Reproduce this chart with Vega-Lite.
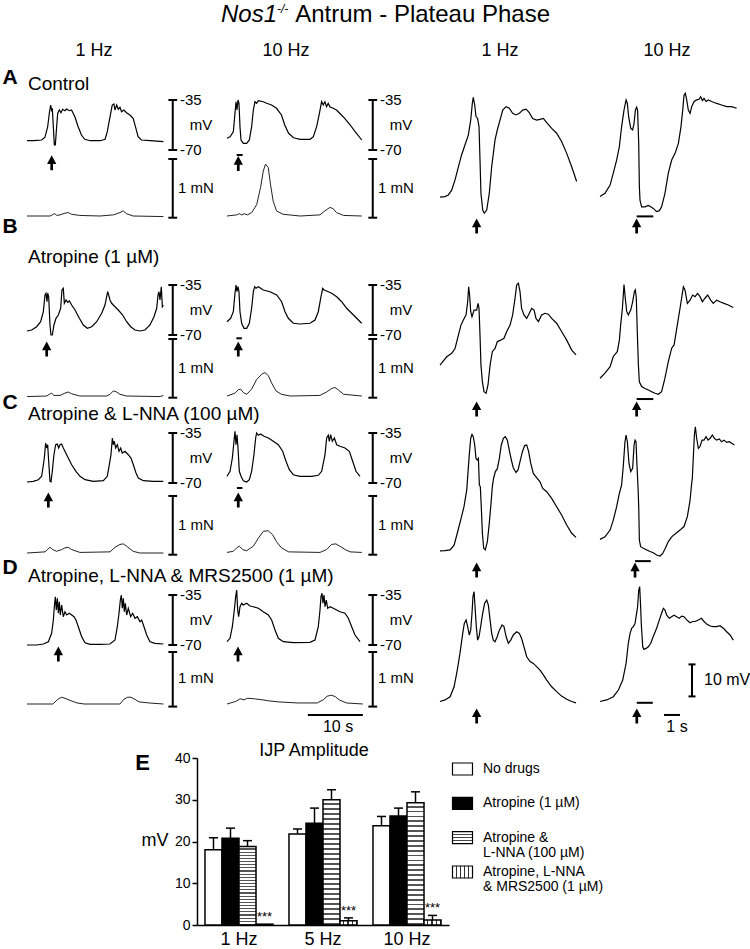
{
"$schema":"https://vega.github.io/schema/vega-lite/v6.json",
"width":750,"height":949,"padding":0,"autosize":{"type":"none"},"background":"white",
"config":{"font":"Liberation Sans","view":{"stroke":null},"text":{"font":"Liberation Sans","color":"black"}},
"resolve":{"scale":{"x":"independent","y":"independent","xOffset":"independent"}},
"datasets":{"ijp":[
{"freq":"1 Hz","group":"none","mean":18.0,"upper":20.9},
{"freq":"1 Hz","group":"atr","mean":20.8,"upper":23.2},
{"freq":"1 Hz","group":"atrl","mean":18.8,"upper":20.2},
{"freq":"1 Hz","group":"atrlm","mean":0.2,"upper":0.2},
{"freq":"5 Hz","group":"none","mean":21.8,"upper":23.0},
{"freq":"5 Hz","group":"atr","mean":24.4,"upper":28.0},
{"freq":"5 Hz","group":"atrl","mean":30.0,"upper":32.4},
{"freq":"5 Hz","group":"atrlm","mean":1.0,"upper":1.7},
{"freq":"10 Hz","group":"none","mean":23.8,"upper":26.0},
{"freq":"10 Hz","group":"atr","mean":26.1,"upper":28.0},
{"freq":"10 Hz","group":"atrl","mean":29.3,"upper":31.9},
{"freq":"10 Hz","group":"atrlm","mean":1.2,"upper":2.3}]},
"layer":[
{"encoding":{"x":{"field":"t","type":"quantitative","axis":null,"scale":{"domain":[0,25],"range":[27,164.5]}},"y":{"field":"v","type":"quantitative","axis":null,"scale":{"domain":[-70,-35],"range":[150,100]}}},
"layer":[
{"data":{"values":[{"t":0,"v":-63.5},{"t":1.15,"v":-63.5},{"t":2.67,"v":-63},{"t":3.27,"v":-61.1},{"t":3.76,"v":-53.7},{"t":4.06,"v":-44.3},{"t":4.3,"v":-38.5},{"t":4.48,"v":-42},{"t":4.6,"v":-40.8},{"t":4.79,"v":-53.7},{"t":4.97,"v":-66.5},{"t":5.15,"v":-66.5},{"t":5.39,"v":-53.7},{"t":5.58,"v":-44.3},{"t":5.88,"v":-42},{"t":6.18,"v":-43.9},{"t":6.48,"v":-41.5},{"t":6.9,"v":-42.5},{"t":7.2,"v":-41.3},{"t":7.7,"v":-42.5},{"t":8.1,"v":-42},{"t":8.7,"v":-46.7},{"t":9.3,"v":-53.7},{"t":9.9,"v":-59.5},{"t":10.5,"v":-62.5},{"t":11.5,"v":-63.5},{"t":13.3,"v":-63.5},{"t":14.2,"v":-62.5},{"t":14.6,"v":-57.2},{"t":15.1,"v":-46.7},{"t":15.5,"v":-38.5},{"t":15.8,"v":-37.8},{"t":16,"v":-42},{"t":16.3,"v":-38.5},{"t":16.6,"v":-41.5},{"t":16.9,"v":-40.1},{"t":17.2,"v":-43.2},{"t":17.6,"v":-42},{"t":18.1,"v":-43.9},{"t":18.7,"v":-45.5},{"t":19.3,"v":-47.8},{"t":19.8,"v":-54.8},{"t":20.2,"v":-60.7},{"t":20.8,"v":-63},{"t":22.4,"v":-63.5},{"t":24.8,"v":-64.2}]},"mark":{"type":"line","color":"black","strokeWidth":1.2}},
{"data":{"values":[{"t":26.5,"v":-35,"v2":-70}]},"mark":{"type":"rule","color":"black","strokeWidth":2},"encoding":{"y2":{"field":"v2"}}},
{"data":{"values":[{"t":25.7,"t2":27.3,"v":-35},{"t":25.7,"t2":27.3,"v":-70}]},"mark":{"type":"rule","color":"black","strokeWidth":2},"encoding":{"x2":{"field":"t2"}}},
{"data":{"values":[{"t":27.8,"v":-35,"label":"-35"},{"t":29.6,"v":-52.5,"label":"mV"},{"t":27.8,"v":-70,"label":"-70"}]},"mark":{"type":"text","align":"left","baseline":"middle","fontSize":15},"encoding":{"text":{"field":"label"}}},
{"data":{"values":[{"t":4.49,"v":-79}]},"mark":{"type":"point","shape":"M0,-1L0.62,0.15L0.18,0.15L0.18,1L-0.18,1L-0.18,0.15L-0.62,0.15Z","size":225,"filled":true,"color":"black","opacity":1}},
{"data":{"values":[{"t":-3.09,"v":-19.25,"label":"A"}]},"mark":{"type":"text","align":"center","baseline":"middle","fontSize":21,"fontWeight":"bold"},"encoding":{"text":{"field":"label"}}},
{"data":{"values":[{"t":0.18,"v":-23.8,"label":"Control"}]},"mark":{"type":"text","align":"left","baseline":"middle","fontSize":19},"encoding":{"text":{"field":"label"}}},
{"data":{"values":[{"t":12.18,"v":-0.7,"label":"1 Hz"}]},"mark":{"type":"text","align":"center","baseline":"middle","fontSize":18},"encoding":{"text":{"field":"label"}}}
]},
{"encoding":{"x":{"field":"t","type":"quantitative","axis":null,"scale":{"domain":[0,25],"range":[227,364.5]}},"y":{"field":"v","type":"quantitative","axis":null,"scale":{"domain":[-70,-35],"range":[150,100]}}},
"layer":[
{"data":{"values":[{"t":0,"v":-61.8},{"t":0.55,"v":-60.7},{"t":1.15,"v":-57.2},{"t":1.45,"v":-44.3},{"t":1.64,"v":-36.2},{"t":1.82,"v":-42},{"t":2,"v":-35},{"t":2.18,"v":-37.3},{"t":2.36,"v":-53.7},{"t":2.55,"v":-63},{"t":2.97,"v":-65.3},{"t":3.58,"v":-65.3},{"t":4.06,"v":-63},{"t":4.48,"v":-53.7},{"t":4.79,"v":-42},{"t":5.09,"v":-36.2},{"t":5.39,"v":-37.3},{"t":5.7,"v":-35.5},{"t":6.6,"v":-36.2},{"t":7.2,"v":-37.3},{"t":8.1,"v":-38.5},{"t":9,"v":-40.8},{"t":9.9,"v":-45.5},{"t":10.5,"v":-52.5},{"t":11.2,"v":-58.3},{"t":12.1,"v":-61.4},{"t":13.3,"v":-62.5},{"t":15.1,"v":-62.5},{"t":15.7,"v":-60.7},{"t":16.3,"v":-53.7},{"t":16.8,"v":-44.3},{"t":17.2,"v":-36.2},{"t":17.5,"v":-38.5},{"t":17.8,"v":-36.2},{"t":18.1,"v":-39.7},{"t":18.4,"v":-37.3},{"t":18.7,"v":-39.7},{"t":19.3,"v":-40.8},{"t":19.9,"v":-42},{"t":20.5,"v":-44.3},{"t":21.4,"v":-47.8},{"t":22.4,"v":-52.5},{"t":23.3,"v":-57.2},{"t":24.5,"v":-63}]},"mark":{"type":"line","color":"black","strokeWidth":1.2}},
{"data":{"values":[{"t":26.5,"v":-35,"v2":-70}]},"mark":{"type":"rule","color":"black","strokeWidth":2},"encoding":{"y2":{"field":"v2"}}},
{"data":{"values":[{"t":25.7,"t2":27.3,"v":-35},{"t":25.7,"t2":27.3,"v":-70},{"t":1.76,"t2":2.85,"v":-73.5}]},"mark":{"type":"rule","color":"black","strokeWidth":2},"encoding":{"x2":{"field":"t2"}}},
{"data":{"values":[{"t":27.8,"v":-35,"label":"-35"},{"t":29.6,"v":-52.5,"label":"mV"},{"t":27.8,"v":-70,"label":"-70"}]},"mark":{"type":"text","align":"left","baseline":"middle","fontSize":15},"encoding":{"text":{"field":"label"}}},
{"data":{"values":[{"t":2.05,"v":-79.5}]},"mark":{"type":"point","shape":"M0,-1L0.62,0.15L0.18,0.15L0.18,1L-0.18,1L-0.18,0.15L-0.62,0.15Z","size":225,"filled":true,"color":"black","opacity":1}},
{"data":{"values":[{"t":10.73,"v":-0.7,"label":"10 Hz"}]},"mark":{"type":"text","align":"center","baseline":"middle","fontSize":18},"encoding":{"text":{"field":"label"}}},
{"data":{"values":[{"t":-1.09,"v":19.6,"label":"Nos1"}]},"mark":{"type":"text","align":"left","baseline":"alphabetic","fontSize":24,"fontStyle":"italic"},"encoding":{"text":{"field":"label"}}},
{"data":{"values":[{"t":9.09,"v":26.2,"label":"-/-"}]},"mark":{"type":"text","align":"left","baseline":"alphabetic","fontSize":12,"fontStyle":"italic"},"encoding":{"text":{"field":"label"}}},
{"data":{"values":[{"t":12.4,"v":19.6,"label":"Antrum - Plateau Phase"}]},"mark":{"type":"text","align":"left","baseline":"alphabetic","fontSize":24},"encoding":{"text":{"field":"label"}}}
]},
{"encoding":{"x":{"field":"t","type":"quantitative","axis":null,"scale":{"domain":[0,25],"range":[27,164.5]}},"y":{"field":"v","type":"quantitative","axis":null,"scale":{"domain":[0,1],"range":[216,159]}}},
"layer":[
{"data":{"values":[{"t":0,"v":0},{"t":4.2,"v":0},{"t":4.8,"v":0.03},{"t":5.1,"v":0.04},{"t":5.4,"v":0.01},{"t":6,"v":0.02},{"t":6.9,"v":0.05},{"t":7.5,"v":0.06},{"t":8.1,"v":0.03},{"t":9.6,"v":0.01},{"t":13.3,"v":0},{"t":15.7,"v":0.02},{"t":16.9,"v":0.06},{"t":17.5,"v":0.09},{"t":18.1,"v":0.04},{"t":19.3,"v":0},{"t":24.8,"v":-0.01}]},"mark":{"type":"line","color":"#222","strokeWidth":1}},
{"data":{"values":[{"t":26.5,"v":-0.03,"v2":1}]},"mark":{"type":"rule","color":"black","strokeWidth":2},"encoding":{"y2":{"field":"v2"}}},
{"data":{"values":[{"t":25.7,"t2":27.3,"v":-0.03},{"t":25.7,"t2":27.3,"v":1}]},"mark":{"type":"rule","color":"black","strokeWidth":2},"encoding":{"x2":{"field":"t2"}}},
{"data":{"values":[{"t":27.45,"v":0.5,"label":"1 mN"}]},"mark":{"type":"text","align":"left","baseline":"middle","fontSize":15},"encoding":{"text":{"field":"label"}}}
]},
{"encoding":{"x":{"field":"t","type":"quantitative","axis":null,"scale":{"domain":[0,25],"range":[227,364.5]}},"y":{"field":"v","type":"quantitative","axis":null,"scale":{"domain":[0,1],"range":[216,159]}}},
"layer":[
{"data":{"values":[{"t":0,"v":0},{"t":1.76,"v":0.02},{"t":2.24,"v":0.04},{"t":2.67,"v":0.02},{"t":3.15,"v":0.04},{"t":3.7,"v":0.02},{"t":4.5,"v":0.06},{"t":5.4,"v":0.2},{"t":6.1,"v":0.5},{"t":6.6,"v":0.79},{"t":7,"v":0.91},{"t":7.5,"v":0.85},{"t":7.9,"v":0.56},{"t":8.4,"v":0.26},{"t":9,"v":0.09},{"t":10.2,"v":0.03},{"t":13.3,"v":0},{"t":16.9,"v":0.02},{"t":17.8,"v":0.09},{"t":18.7,"v":0.15},{"t":19.3,"v":0.13},{"t":19.9,"v":0.06},{"t":21.2,"v":0.01},{"t":24.5,"v":0}]},"mark":{"type":"line","color":"#222","strokeWidth":1}},
{"data":{"values":[{"t":26.5,"v":-0.03,"v2":1}]},"mark":{"type":"rule","color":"black","strokeWidth":2},"encoding":{"y2":{"field":"v2"}}},
{"data":{"values":[{"t":25.7,"t2":27.3,"v":-0.03},{"t":25.7,"t2":27.3,"v":1}]},"mark":{"type":"rule","color":"black","strokeWidth":2},"encoding":{"x2":{"field":"t2"}}},
{"data":{"values":[{"t":27.45,"v":0.5,"label":"1 mN"}]},"mark":{"type":"text","align":"left","baseline":"middle","fontSize":15},"encoding":{"text":{"field":"label"}}}
]},
{"encoding":{"x":{"field":"t","type":"quantitative","axis":null,"scale":{"domain":[0,8.5],"range":[440,576]}},"y":{"field":"v","type":"quantitative","axis":null,"scale":{"domain":[-75,-35],"range":[218,90]}}},
"layer":[
{"data":{"values":[{"t":0,"v":-68.5},{"t":0.31,"v":-68.3},{"t":0.52,"v":-67.8},{"t":0.73,"v":-66.3},{"t":0.94,"v":-63.1},{"t":1.15,"v":-59},{"t":1.35,"v":-55.3},{"t":1.56,"v":-52.2},{"t":1.77,"v":-49.1},{"t":1.92,"v":-44.4},{"t":2.02,"v":-39.2},{"t":2.08,"v":-37.3},{"t":2.17,"v":-39.7},{"t":2.25,"v":-43.3},{"t":2.35,"v":-43.9},{"t":2.44,"v":-46.5},{"t":2.5,"v":-56.9},{"t":2.56,"v":-67.3},{"t":2.67,"v":-72.5},{"t":2.77,"v":-73.5},{"t":2.92,"v":-72.5},{"t":3.08,"v":-67.3},{"t":3.23,"v":-59},{"t":3.44,"v":-50.6},{"t":3.58,"v":-47.5},{"t":3.75,"v":-44.4},{"t":3.92,"v":-41.3},{"t":4.13,"v":-40.2},{"t":4.33,"v":-40.7},{"t":4.54,"v":-42.3},{"t":4.75,"v":-42.8},{"t":4.96,"v":-42.3},{"t":5.17,"v":-41.3},{"t":5.38,"v":-41},{"t":5.58,"v":-42.1},{"t":5.79,"v":-43.9},{"t":6.04,"v":-44.4},{"t":6.25,"v":-44.2},{"t":6.46,"v":-43.9},{"t":6.67,"v":-45.2},{"t":6.98,"v":-47},{"t":7.29,"v":-48.5},{"t":7.6,"v":-51.1},{"t":7.92,"v":-54.8},{"t":8.23,"v":-59},{"t":8.54,"v":-63.6}]},"mark":{"type":"line","color":"black","strokeWidth":1.2}},
{"data":{"values":[{"t":2.29,"v":-77.5}]},"mark":{"type":"point","shape":"M0,-1L0.62,0.15L0.18,0.15L0.18,1L-0.18,1L-0.18,0.15L-0.62,0.15Z","size":225,"filled":true,"color":"black","opacity":1}},
{"data":{"values":[{"t":3.75,"v":-22.8,"label":"1 Hz"}]},"mark":{"type":"text","align":"center","baseline":"middle","fontSize":18},"encoding":{"text":{"field":"label"}}}
]},
{"encoding":{"x":{"field":"t","type":"quantitative","axis":null,"scale":{"domain":[0,8.5],"range":[600,736]}},"y":{"field":"v","type":"quantitative","axis":null,"scale":{"domain":[-75,-35],"range":[218,90]}}},
"layer":[
{"data":{"values":[{"t":0,"v":-68.3},{"t":0.31,"v":-67.3},{"t":0.63,"v":-64.7},{"t":0.83,"v":-61},{"t":1.04,"v":-56.9},{"t":1.21,"v":-52.7},{"t":1.35,"v":-46.5},{"t":1.5,"v":-41.3},{"t":1.63,"v":-38.1},{"t":1.71,"v":-39.2},{"t":1.79,"v":-43.3},{"t":1.92,"v":-47},{"t":2.04,"v":-47.5},{"t":2.13,"v":-45.4},{"t":2.21,"v":-41.3},{"t":2.29,"v":-40.4},{"t":2.35,"v":-41.3},{"t":2.42,"v":-51.7},{"t":2.46,"v":-65.2},{"t":2.5,"v":-69.4},{"t":2.6,"v":-71.5},{"t":2.81,"v":-71.5},{"t":3.02,"v":-71.1},{"t":3.17,"v":-71.5},{"t":3.33,"v":-72},{"t":3.54,"v":-73},{"t":3.71,"v":-72.7},{"t":3.85,"v":-71.5},{"t":4.06,"v":-67.3},{"t":4.27,"v":-61},{"t":4.48,"v":-56.9},{"t":4.69,"v":-54.8},{"t":4.9,"v":-51.7},{"t":5.06,"v":-46.5},{"t":5.17,"v":-41.3},{"t":5.25,"v":-36.6},{"t":5.33,"v":-36},{"t":5.42,"v":-38.1},{"t":5.52,"v":-41.3},{"t":5.63,"v":-42.3},{"t":5.73,"v":-40.2},{"t":5.88,"v":-38.6},{"t":6.04,"v":-38.1},{"t":6.19,"v":-37.9},{"t":6.29,"v":-37.1},{"t":6.4,"v":-38.3},{"t":6.5,"v":-37.6},{"t":6.63,"v":-38.6},{"t":6.77,"v":-38.1},{"t":6.98,"v":-38.6},{"t":7.29,"v":-39.2},{"t":7.6,"v":-39.7},{"t":7.92,"v":-40.2},{"t":8.23,"v":-40.2},{"t":8.54,"v":-40.7}]},"mark":{"type":"line","color":"black","strokeWidth":1.2}},
{"data":{"values":[{"t":2.29,"v":-77.5}]},"mark":{"type":"point","shape":"M0,-1L0.62,0.15L0.18,0.15L0.18,1L-0.18,1L-0.18,0.15L-0.62,0.15Z","size":225,"filled":true,"color":"black","opacity":1}},
{"data":{"values":[{"t":2.29,"t2":3.33,"v":-74.5}]},"mark":{"type":"rule","color":"black","strokeWidth":2},"encoding":{"x2":{"field":"t2"}}},
{"data":{"values":[{"t":4.19,"v":-22.8,"label":"10 Hz"}]},"mark":{"type":"text","align":"center","baseline":"middle","fontSize":18},"encoding":{"text":{"field":"label"}}}
]},
{"encoding":{"x":{"field":"t","type":"quantitative","axis":null,"scale":{"domain":[0,25],"range":[27,164.5]}},"y":{"field":"v","type":"quantitative","axis":null,"scale":{"domain":[-70,-35],"range":[335,285]}}},
"layer":[
{"data":{"values":[{"t":0,"v":-67.2},{"t":0.85,"v":-66.5},{"t":1.76,"v":-64.2},{"t":2.48,"v":-60.7},{"t":2.97,"v":-53.7},{"t":3.27,"v":-42},{"t":3.45,"v":-40.8},{"t":3.64,"v":-46.7},{"t":3.76,"v":-40.8},{"t":3.94,"v":-43.2},{"t":4.18,"v":-63},{"t":4.36,"v":-70},{"t":4.6,"v":-70},{"t":4.9,"v":-63},{"t":5.27,"v":-58.3},{"t":5.7,"v":-56},{"t":6.12,"v":-51.3},{"t":6.36,"v":-38.5},{"t":6.6,"v":-37.3},{"t":6.79,"v":-47.8},{"t":7.09,"v":-45.5},{"t":7.39,"v":-47.1},{"t":7.7,"v":-46.2},{"t":8.12,"v":-49},{"t":8.73,"v":-52.5},{"t":9.52,"v":-58.3},{"t":10.24,"v":-63},{"t":10.97,"v":-65.3},{"t":11.76,"v":-64.2},{"t":12.67,"v":-60.7},{"t":13.58,"v":-54.8},{"t":14.18,"v":-49},{"t":14.48,"v":-43.2},{"t":14.67,"v":-39.7},{"t":14.85,"v":-42},{"t":15.09,"v":-45.5},{"t":15.39,"v":-47.8},{"t":16,"v":-50.2},{"t":16.6,"v":-52.5},{"t":17.39,"v":-56},{"t":18.12,"v":-60.7},{"t":18.85,"v":-64.2},{"t":19.64,"v":-66.5},{"t":20.55,"v":-67.2},{"t":21.45,"v":-66.5},{"t":22.36,"v":-63},{"t":23.09,"v":-57.2},{"t":23.58,"v":-51.3},{"t":23.82,"v":-42},{"t":24,"v":-39.7},{"t":24.18,"v":-45.5},{"t":24.42,"v":-36.2},{"t":24.61,"v":-50.2},{"t":24.79,"v":-49}]},"mark":{"type":"line","color":"black","strokeWidth":1.2}},
{"data":{"values":[{"t":26.5,"v":-35,"v2":-70}]},"mark":{"type":"rule","color":"black","strokeWidth":2},"encoding":{"y2":{"field":"v2"}}},
{"data":{"values":[{"t":25.7,"t2":27.3,"v":-35},{"t":25.7,"t2":27.3,"v":-70}]},"mark":{"type":"rule","color":"black","strokeWidth":2},"encoding":{"x2":{"field":"t2"}}},
{"data":{"values":[{"t":27.8,"v":-35,"label":"-35"},{"t":29.6,"v":-52.5,"label":"mV"},{"t":27.8,"v":-70,"label":"-70"}]},"mark":{"type":"text","align":"left","baseline":"middle","fontSize":15},"encoding":{"text":{"field":"label"}}},
{"data":{"values":[{"t":3.58,"v":-79.8}]},"mark":{"type":"point","shape":"M0,-1L0.62,0.15L0.18,0.15L0.18,1L-0.18,1L-0.18,0.15L-0.62,0.15Z","size":225,"filled":true,"color":"black","opacity":1}},
{"data":{"values":[{"t":-3.09,"v":5.95,"label":"B"}]},"mark":{"type":"text","align":"center","baseline":"middle","fontSize":21,"fontWeight":"bold"},"encoding":{"text":{"field":"label"}}},
{"data":{"values":[{"t":0.18,"v":-15.4,"label":"Atropine (1 µM)"}]},"mark":{"type":"text","align":"left","baseline":"middle","fontSize":19},"encoding":{"text":{"field":"label"}}}
]},
{"encoding":{"x":{"field":"t","type":"quantitative","axis":null,"scale":{"domain":[0,25],"range":[227,364.5]}},"y":{"field":"v","type":"quantitative","axis":null,"scale":{"domain":[-70,-35],"range":[335,285]}}},
"layer":[
{"data":{"values":[{"t":0,"v":-60.7},{"t":0.67,"v":-58.3},{"t":1.15,"v":-53.7},{"t":1.45,"v":-40.8},{"t":1.64,"v":-35},{"t":1.82,"v":-39.7},{"t":2,"v":-36.2},{"t":2.18,"v":-39.7},{"t":2.36,"v":-53.7},{"t":2.67,"v":-61.8},{"t":3.09,"v":-65.3},{"t":3.58,"v":-65.3},{"t":4.06,"v":-61.8},{"t":4.48,"v":-51.3},{"t":4.79,"v":-39.7},{"t":5.03,"v":-36.2},{"t":5.27,"v":-37.3},{"t":5.7,"v":-36.2},{"t":6.6,"v":-38.5},{"t":7.82,"v":-39.7},{"t":9.03,"v":-42},{"t":9.94,"v":-46.7},{"t":10.55,"v":-53.7},{"t":11.15,"v":-58.3},{"t":12.06,"v":-61.8},{"t":13.27,"v":-62.3},{"t":15.09,"v":-61.8},{"t":16,"v":-59.5},{"t":16.6,"v":-53.7},{"t":17.03,"v":-44.3},{"t":17.39,"v":-37.3},{"t":17.64,"v":-38.5},{"t":18.12,"v":-39.2},{"t":19.03,"v":-40.8},{"t":19.94,"v":-43.2},{"t":20.85,"v":-46.7},{"t":21.76,"v":-51.3},{"t":22.67,"v":-54.8},{"t":23.58,"v":-58.3},{"t":24.48,"v":-61.8}]},"mark":{"type":"line","color":"black","strokeWidth":1.2}},
{"data":{"values":[{"t":26.5,"v":-35,"v2":-70}]},"mark":{"type":"rule","color":"black","strokeWidth":2},"encoding":{"y2":{"field":"v2"}}},
{"data":{"values":[{"t":25.7,"t2":27.3,"v":-35},{"t":25.7,"t2":27.3,"v":-70},{"t":1.7,"t2":2.7,"v":-72.3}]},"mark":{"type":"rule","color":"black","strokeWidth":2},"encoding":{"x2":{"field":"t2"}}},
{"data":{"values":[{"t":27.8,"v":-35,"label":"-35"},{"t":29.6,"v":-52.5,"label":"mV"},{"t":27.8,"v":-70,"label":"-70"}]},"mark":{"type":"text","align":"left","baseline":"middle","fontSize":15},"encoding":{"text":{"field":"label"}}},
{"data":{"values":[{"t":2.05,"v":-79.8}]},"mark":{"type":"point","shape":"M0,-1L0.62,0.15L0.18,0.15L0.18,1L-0.18,1L-0.18,0.15L-0.62,0.15Z","size":225,"filled":true,"color":"black","opacity":1}}
]},
{"encoding":{"x":{"field":"t","type":"quantitative","axis":null,"scale":{"domain":[0,25],"range":[27,164.5]}},"y":{"field":"v","type":"quantitative","axis":null,"scale":{"domain":[0,1],"range":[396,339]}}},
"layer":[
{"data":{"values":[{"t":0,"v":-0.01},{"t":3.58,"v":0},{"t":4.06,"v":0.03},{"t":4.48,"v":0.05},{"t":4.9,"v":0.01},{"t":6,"v":0.01},{"t":6.9,"v":0.05},{"t":7.5,"v":0.07},{"t":8.1,"v":0.04},{"t":9.6,"v":0},{"t":14.5,"v":0},{"t":15.1,"v":0.03},{"t":15.7,"v":0.09},{"t":16.3,"v":0.07},{"t":16.9,"v":0.03},{"t":18.1,"v":0},{"t":24.2,"v":-0.01},{"t":24.8,"v":0.01}]},"mark":{"type":"line","color":"#222","strokeWidth":1}},
{"data":{"values":[{"t":26.5,"v":-0.03,"v2":1}]},"mark":{"type":"rule","color":"black","strokeWidth":2},"encoding":{"y2":{"field":"v2"}}},
{"data":{"values":[{"t":25.7,"t2":27.3,"v":-0.03},{"t":25.7,"t2":27.3,"v":1}]},"mark":{"type":"rule","color":"black","strokeWidth":2},"encoding":{"x2":{"field":"t2"}}},
{"data":{"values":[{"t":27.45,"v":0.5,"label":"1 mN"}]},"mark":{"type":"text","align":"left","baseline":"middle","fontSize":15},"encoding":{"text":{"field":"label"}}}
]},
{"encoding":{"x":{"field":"t","type":"quantitative","axis":null,"scale":{"domain":[0,25],"range":[227,364.5]}},"y":{"field":"v","type":"quantitative","axis":null,"scale":{"domain":[0,1],"range":[396,339]}}},
"layer":[
{"data":{"values":[{"t":0,"v":0},{"t":1.45,"v":0.05},{"t":2.06,"v":0.11},{"t":2.48,"v":0.12},{"t":2.97,"v":0.06},{"t":3.58,"v":0.03},{"t":4.48,"v":0.12},{"t":5.39,"v":0.29},{"t":6.3,"v":0.38},{"t":6.9,"v":0.41},{"t":7.5,"v":0.36},{"t":8.1,"v":0.23},{"t":8.9,"v":0.09},{"t":9.9,"v":0.03},{"t":11.45,"v":0},{"t":16.9,"v":0.01},{"t":18.1,"v":0.07},{"t":19,"v":0.13},{"t":19.6,"v":0.15},{"t":20.2,"v":0.11},{"t":21.2,"v":0.03},{"t":24.5,"v":0}]},"mark":{"type":"line","color":"#222","strokeWidth":1}},
{"data":{"values":[{"t":26.5,"v":-0.03,"v2":1}]},"mark":{"type":"rule","color":"black","strokeWidth":2},"encoding":{"y2":{"field":"v2"}}},
{"data":{"values":[{"t":25.7,"t2":27.3,"v":-0.03},{"t":25.7,"t2":27.3,"v":1}]},"mark":{"type":"rule","color":"black","strokeWidth":2},"encoding":{"x2":{"field":"t2"}}},
{"data":{"values":[{"t":27.45,"v":0.5,"label":"1 mN"}]},"mark":{"type":"text","align":"left","baseline":"middle","fontSize":15},"encoding":{"text":{"field":"label"}}}
]},
{"encoding":{"x":{"field":"t","type":"quantitative","axis":null,"scale":{"domain":[0,8.5],"range":[440,576]}},"y":{"field":"v","type":"quantitative","axis":null,"scale":{"domain":[-75,-35],"range":[408,280]}}},
"layer":[
{"data":{"values":[{"t":0,"v":-61.6},{"t":0.1,"v":-61},{"t":0.42,"v":-59},{"t":0.73,"v":-57.9},{"t":0.94,"v":-56.4},{"t":1.15,"v":-52.2},{"t":1.31,"v":-49.1},{"t":1.46,"v":-47.5},{"t":1.63,"v":-45.9},{"t":1.73,"v":-41.8},{"t":1.79,"v":-37.1},{"t":1.85,"v":-39.7},{"t":1.92,"v":-44.9},{"t":2,"v":-46.5},{"t":2.13,"v":-44.4},{"t":2.29,"v":-44.4},{"t":2.38,"v":-42.3},{"t":2.44,"v":-43.9},{"t":2.5,"v":-52.2},{"t":2.56,"v":-61.6},{"t":2.65,"v":-66.8},{"t":2.75,"v":-69.9},{"t":2.88,"v":-70.4},{"t":3,"v":-67.8},{"t":3.13,"v":-61.6},{"t":3.27,"v":-57.4},{"t":3.44,"v":-56.4},{"t":3.58,"v":-54.3},{"t":3.79,"v":-53.8},{"t":4,"v":-53.2},{"t":4.17,"v":-51.1},{"t":4.38,"v":-49.1},{"t":4.54,"v":-45.9},{"t":4.69,"v":-40.7},{"t":4.79,"v":-36.6},{"t":4.9,"v":-36},{"t":5,"v":-38.6},{"t":5.1,"v":-43.9},{"t":5.25,"v":-45.9},{"t":5.42,"v":-47},{"t":5.58,"v":-45.4},{"t":5.73,"v":-43.9},{"t":5.88,"v":-44.4},{"t":6,"v":-47},{"t":6.15,"v":-48},{"t":6.35,"v":-45.9},{"t":6.56,"v":-45.4},{"t":6.77,"v":-45.7},{"t":6.98,"v":-47},{"t":7.29,"v":-48.5},{"t":7.6,"v":-51.1},{"t":7.92,"v":-53.8},{"t":8.23,"v":-56.9},{"t":8.5,"v":-58.4}]},"mark":{"type":"line","color":"black","strokeWidth":1.2}},
{"data":{"values":[{"t":2.29,"v":-75.3}]},"mark":{"type":"point","shape":"M0,-1L0.62,0.15L0.18,0.15L0.18,1L-0.18,1L-0.18,0.15L-0.62,0.15Z","size":225,"filled":true,"color":"black","opacity":1}}
]},
{"encoding":{"x":{"field":"t","type":"quantitative","axis":null,"scale":{"domain":[0,8.5],"range":[600,736]}},"y":{"field":"v","type":"quantitative","axis":null,"scale":{"domain":[-75,-35],"range":[408,280]}}},
"layer":[
{"data":{"values":[{"t":0,"v":-65.7},{"t":0.31,"v":-64.1},{"t":0.63,"v":-62.1},{"t":0.83,"v":-58.9},{"t":1.08,"v":-57.4},{"t":1.21,"v":-53.8},{"t":1.29,"v":-49.1},{"t":1.4,"v":-43.9},{"t":1.5,"v":-36.4},{"t":1.58,"v":-40.7},{"t":1.67,"v":-44.9},{"t":1.77,"v":-45.9},{"t":1.92,"v":-44.4},{"t":2.04,"v":-41.8},{"t":2.15,"v":-38.6},{"t":2.21,"v":-38.1},{"t":2.27,"v":-40.7},{"t":2.33,"v":-51.1},{"t":2.4,"v":-61.6},{"t":2.46,"v":-66.8},{"t":2.6,"v":-68.3},{"t":2.81,"v":-68.9},{"t":3.02,"v":-69.4},{"t":3.23,"v":-69.9},{"t":3.44,"v":-70.4},{"t":3.65,"v":-70.7},{"t":3.85,"v":-69.9},{"t":4.06,"v":-65.7},{"t":4.27,"v":-60.5},{"t":4.48,"v":-56.3},{"t":4.63,"v":-55.3},{"t":4.83,"v":-49.1},{"t":5,"v":-43.9},{"t":5.13,"v":-39.7},{"t":5.21,"v":-37.1},{"t":5.31,"v":-38.1},{"t":5.46,"v":-42.3},{"t":5.63,"v":-41.3},{"t":5.79,"v":-39.7},{"t":5.94,"v":-40.2},{"t":6.1,"v":-39.2},{"t":6.25,"v":-40.2},{"t":6.4,"v":-41.8},{"t":6.56,"v":-40.7},{"t":6.73,"v":-39.7},{"t":6.92,"v":-41.3},{"t":7.08,"v":-42.3},{"t":7.29,"v":-41.3},{"t":7.5,"v":-41.8},{"t":7.75,"v":-42.3},{"t":8.02,"v":-42.8},{"t":8.33,"v":-43.6}]},"mark":{"type":"line","color":"black","strokeWidth":1.2}},
{"data":{"values":[{"t":2.29,"v":-75.3}]},"mark":{"type":"point","shape":"M0,-1L0.62,0.15L0.18,0.15L0.18,1L-0.18,1L-0.18,0.15L-0.62,0.15Z","size":225,"filled":true,"color":"black","opacity":1}},
{"data":{"values":[{"t":2.29,"t2":3.33,"v":-72.2}]},"mark":{"type":"rule","color":"black","strokeWidth":2},"encoding":{"x2":{"field":"t2"}}}
]},
{"encoding":{"x":{"field":"t","type":"quantitative","axis":null,"scale":{"domain":[0,25],"range":[27,164.5]}},"y":{"field":"v","type":"quantitative","axis":null,"scale":{"domain":[-70,-35],"range":[483,433]}}},
"layer":[
{"data":{"values":[{"t":0,"v":-69.3},{"t":1.15,"v":-68.8},{"t":2.06,"v":-67.7},{"t":2.67,"v":-65.3},{"t":3.15,"v":-52.5},{"t":3.39,"v":-42},{"t":3.58,"v":-45.5},{"t":3.76,"v":-43.2},{"t":3.94,"v":-54.8},{"t":4.18,"v":-68.8},{"t":4.36,"v":-69.3},{"t":4.6,"v":-61.8},{"t":4.9,"v":-50.2},{"t":5.21,"v":-43.2},{"t":5.52,"v":-42.7},{"t":5.76,"v":-45.5},{"t":6,"v":-43.2},{"t":6.3,"v":-42.7},{"t":6.6,"v":-45.5},{"t":6.9,"v":-47.8},{"t":7.5,"v":-52.5},{"t":8.12,"v":-57.2},{"t":8.9,"v":-61.8},{"t":9.64,"v":-65.3},{"t":10.55,"v":-67.7},{"t":12.06,"v":-68.8},{"t":13.88,"v":-68.4},{"t":14.6,"v":-65.3},{"t":14.97,"v":-57.2},{"t":15.27,"v":-50.2},{"t":15.52,"v":-38.5},{"t":15.7,"v":-43.2},{"t":15.88,"v":-40.8},{"t":16.12,"v":-45.5},{"t":16.42,"v":-43.2},{"t":16.73,"v":-47.8},{"t":17.03,"v":-45.5},{"t":17.33,"v":-49},{"t":17.82,"v":-47.8},{"t":18.42,"v":-50.2},{"t":18.91,"v":-52.5},{"t":19.33,"v":-57.2},{"t":19.82,"v":-63},{"t":20.24,"v":-66.5},{"t":21.15,"v":-68.4},{"t":22.97,"v":-68.8},{"t":24.79,"v":-68.8}]},"mark":{"type":"line","color":"black","strokeWidth":1.2}},
{"data":{"values":[{"t":26.5,"v":-35,"v2":-70}]},"mark":{"type":"rule","color":"black","strokeWidth":2},"encoding":{"y2":{"field":"v2"}}},
{"data":{"values":[{"t":25.7,"t2":27.3,"v":-35},{"t":25.7,"t2":27.3,"v":-70}]},"mark":{"type":"rule","color":"black","strokeWidth":2},"encoding":{"x2":{"field":"t2"}}},
{"data":{"values":[{"t":27.8,"v":-35,"label":"-35"},{"t":29.6,"v":-52.5,"label":"mV"},{"t":27.8,"v":-70,"label":"-70"}]},"mark":{"type":"text","align":"left","baseline":"middle","fontSize":15},"encoding":{"text":{"field":"label"}}},
{"data":{"values":[{"t":3.88,"v":-81.9}]},"mark":{"type":"point","shape":"M0,-1L0.62,0.15L0.18,0.15L0.18,1L-0.18,1L-0.18,0.15L-0.62,0.15Z","size":225,"filled":true,"color":"black","opacity":1}},
{"data":{"values":[{"t":-3.09,"v":-13.65,"label":"C"}]},"mark":{"type":"text","align":"center","baseline":"middle","fontSize":21,"fontWeight":"bold"},"encoding":{"text":{"field":"label"}}},
{"data":{"values":[{"t":0.18,"v":-21.7,"label":"Atropine & L-NNA (100 µM)"}]},"mark":{"type":"text","align":"left","baseline":"middle","fontSize":19},"encoding":{"text":{"field":"label"}}}
]},
{"encoding":{"x":{"field":"t","type":"quantitative","axis":null,"scale":{"domain":[0,25],"range":[227,364.5]}},"y":{"field":"v","type":"quantitative","axis":null,"scale":{"domain":[-70,-35],"range":[483,433]}}},
"layer":[
{"data":{"values":[{"t":0,"v":-65.3},{"t":0.55,"v":-61.8},{"t":0.97,"v":-52.5},{"t":1.27,"v":-40.8},{"t":1.45,"v":-33.8},{"t":1.64,"v":-43.2},{"t":1.82,"v":-36.2},{"t":2,"v":-45.5},{"t":2.24,"v":-61.8},{"t":2.55,"v":-65.3},{"t":2.97,"v":-68.4},{"t":3.58,"v":-69.3},{"t":4.06,"v":-67.7},{"t":4.48,"v":-61.8},{"t":4.9,"v":-50.2},{"t":5.21,"v":-38.5},{"t":5.39,"v":-35},{"t":5.7,"v":-36.6},{"t":6.12,"v":-35.7},{"t":6.73,"v":-37.3},{"t":7.52,"v":-38.5},{"t":8.42,"v":-40.8},{"t":9.33,"v":-43.2},{"t":10.12,"v":-47.8},{"t":10.73,"v":-54.8},{"t":11.33,"v":-60.7},{"t":12.06,"v":-64.2},{"t":13.27,"v":-65.3},{"t":15.39,"v":-65.3},{"t":16.6,"v":-64.6},{"t":17.21,"v":-61.8},{"t":17.82,"v":-50.2},{"t":18.12,"v":-38.5},{"t":18.42,"v":-36.6},{"t":18.61,"v":-40.8},{"t":18.85,"v":-36.2},{"t":19.15,"v":-40.8},{"t":19.52,"v":-38.5},{"t":19.94,"v":-43.2},{"t":20.55,"v":-44.3},{"t":21.45,"v":-45.5},{"t":22.24,"v":-47.8},{"t":22.85,"v":-54.8},{"t":23.45,"v":-61.8},{"t":24.18,"v":-65.3}]},"mark":{"type":"line","color":"black","strokeWidth":1.2}},
{"data":{"values":[{"t":26.5,"v":-35,"v2":-70}]},"mark":{"type":"rule","color":"black","strokeWidth":2},"encoding":{"y2":{"field":"v2"}}},
{"data":{"values":[{"t":25.7,"t2":27.3,"v":-35},{"t":25.7,"t2":27.3,"v":-70},{"t":1.8,"t2":2.8,"v":-73.5}]},"mark":{"type":"rule","color":"black","strokeWidth":2},"encoding":{"x2":{"field":"t2"}}},
{"data":{"values":[{"t":27.8,"v":-35,"label":"-35"},{"t":29.6,"v":-52.5,"label":"mV"},{"t":27.8,"v":-70,"label":"-70"}]},"mark":{"type":"text","align":"left","baseline":"middle","fontSize":15},"encoding":{"text":{"field":"label"}}},
{"data":{"values":[{"t":2.05,"v":-81.9}]},"mark":{"type":"point","shape":"M0,-1L0.62,0.15L0.18,0.15L0.18,1L-0.18,1L-0.18,0.15L-0.62,0.15Z","size":225,"filled":true,"color":"black","opacity":1}}
]},
{"encoding":{"x":{"field":"t","type":"quantitative","axis":null,"scale":{"domain":[0,25],"range":[27,164.5]}},"y":{"field":"v","type":"quantitative","axis":null,"scale":{"domain":[0,1],"range":[553,496]}}},
"layer":[
{"data":{"values":[{"t":0,"v":0},{"t":3.27,"v":0.02},{"t":3.7,"v":0.06},{"t":4.18,"v":0.1},{"t":4.67,"v":0.06},{"t":5.39,"v":0.03},{"t":6.3,"v":0.06},{"t":6.9,"v":0.09},{"t":7.5,"v":0.1},{"t":8.12,"v":0.06},{"t":9.64,"v":0.01},{"t":15.1,"v":0.02},{"t":16,"v":0.1},{"t":16.9,"v":0.15},{"t":17.5,"v":0.16},{"t":18.1,"v":0.12},{"t":19.3,"v":0.03},{"t":20.5,"v":0},{"t":24.8,"v":0}]},"mark":{"type":"line","color":"#222","strokeWidth":1}},
{"data":{"values":[{"t":26.5,"v":-0.03,"v2":1}]},"mark":{"type":"rule","color":"black","strokeWidth":2},"encoding":{"y2":{"field":"v2"}}},
{"data":{"values":[{"t":25.7,"t2":27.3,"v":-0.03},{"t":25.7,"t2":27.3,"v":1}]},"mark":{"type":"rule","color":"black","strokeWidth":2},"encoding":{"x2":{"field":"t2"}}},
{"data":{"values":[{"t":27.45,"v":0.5,"label":"1 mN"}]},"mark":{"type":"text","align":"left","baseline":"middle","fontSize":15},"encoding":{"text":{"field":"label"}}}
]},
{"encoding":{"x":{"field":"t","type":"quantitative","axis":null,"scale":{"domain":[0,25],"range":[227,364.5]}},"y":{"field":"v","type":"quantitative","axis":null,"scale":{"domain":[0,1],"range":[553,496]}}},
"layer":[
{"data":{"values":[{"t":0,"v":0.01},{"t":1.15,"v":0.03},{"t":1.76,"v":0.09},{"t":2.24,"v":0.12},{"t":2.85,"v":0.06},{"t":3.58,"v":0.04},{"t":4.79,"v":0.12},{"t":5.7,"v":0.26},{"t":6.6,"v":0.38},{"t":7.5,"v":0.39},{"t":8.3,"v":0.32},{"t":9,"v":0.2},{"t":9.9,"v":0.09},{"t":11.2,"v":0.02},{"t":16.9,"v":0.01},{"t":18.1,"v":0.06},{"t":19,"v":0.15},{"t":19.8,"v":0.16},{"t":20.5,"v":0.12},{"t":21.5,"v":0.06},{"t":22.4,"v":0.02},{"t":24.5,"v":0.01}]},"mark":{"type":"line","color":"#222","strokeWidth":1}},
{"data":{"values":[{"t":26.5,"v":-0.03,"v2":1}]},"mark":{"type":"rule","color":"black","strokeWidth":2},"encoding":{"y2":{"field":"v2"}}},
{"data":{"values":[{"t":25.7,"t2":27.3,"v":-0.03},{"t":25.7,"t2":27.3,"v":1}]},"mark":{"type":"rule","color":"black","strokeWidth":2},"encoding":{"x2":{"field":"t2"}}},
{"data":{"values":[{"t":27.45,"v":0.5,"label":"1 mN"}]},"mark":{"type":"text","align":"left","baseline":"middle","fontSize":15},"encoding":{"text":{"field":"label"}}}
]},
{"encoding":{"x":{"field":"t","type":"quantitative","axis":null,"scale":{"domain":[0,8.5],"range":[440,576]}},"y":{"field":"v","type":"quantitative","axis":null,"scale":{"domain":[-75,-35],"range":[556,428]}}},
"layer":[
{"data":{"values":[{"t":0,"v":-73.4},{"t":0.31,"v":-73.3},{"t":0.63,"v":-73.1},{"t":0.88,"v":-71.6},{"t":1.08,"v":-67.9},{"t":1.29,"v":-63.8},{"t":1.5,"v":-59.6},{"t":1.67,"v":-54.4},{"t":1.83,"v":-43.4},{"t":1.92,"v":-38.2},{"t":2,"v":-37},{"t":2.08,"v":-37.7},{"t":2.17,"v":-40.3},{"t":2.25,"v":-44.5},{"t":2.33,"v":-45},{"t":2.4,"v":-44.5},{"t":2.46,"v":-52.8},{"t":2.52,"v":-53.3},{"t":2.58,"v":-59.6},{"t":2.65,"v":-67.9},{"t":2.73,"v":-72.6},{"t":2.83,"v":-73.1},{"t":2.96,"v":-70.5},{"t":3.08,"v":-64.8},{"t":3.19,"v":-58.5},{"t":3.27,"v":-53.3},{"t":3.35,"v":-50.7},{"t":3.46,"v":-48.6},{"t":3.58,"v":-47.8},{"t":3.71,"v":-44.5},{"t":3.83,"v":-40.3},{"t":3.96,"v":-38.2},{"t":4.08,"v":-37.7},{"t":4.21,"v":-38.8},{"t":4.33,"v":-41.9},{"t":4.46,"v":-45},{"t":4.58,"v":-47.4},{"t":4.75,"v":-48.9},{"t":4.88,"v":-48.1},{"t":5,"v":-45.5},{"t":5.15,"v":-42.4},{"t":5.29,"v":-40.5},{"t":5.42,"v":-40.3},{"t":5.54,"v":-42.4},{"t":5.67,"v":-46},{"t":5.83,"v":-49.2},{"t":6.04,"v":-50.5},{"t":6.25,"v":-51.8},{"t":6.42,"v":-53.9},{"t":6.67,"v":-54.9},{"t":6.98,"v":-57},{"t":7.29,"v":-59.6},{"t":7.6,"v":-62.2},{"t":7.92,"v":-65.3},{"t":8.23,"v":-67.9},{"t":8.5,"v":-69.2}]},"mark":{"type":"line","color":"black","strokeWidth":1.2}},
{"data":{"values":[{"t":2.29,"v":-79.4}]},"mark":{"type":"point","shape":"M0,-1L0.62,0.15L0.18,0.15L0.18,1L-0.18,1L-0.18,0.15L-0.62,0.15Z","size":225,"filled":true,"color":"black","opacity":1}}
]},
{"encoding":{"x":{"field":"t","type":"quantitative","axis":null,"scale":{"domain":[0,8.5],"range":[600,736]}},"y":{"field":"v","type":"quantitative","axis":null,"scale":{"domain":[-75,-35],"range":[556,428]}}},
"layer":[
{"data":{"values":[{"t":0,"v":-69.8},{"t":0.31,"v":-69},{"t":0.63,"v":-66.9},{"t":0.83,"v":-63.8},{"t":1.04,"v":-59.6},{"t":1.21,"v":-55.4},{"t":1.35,"v":-52.8},{"t":1.46,"v":-46.6},{"t":1.56,"v":-39.3},{"t":1.63,"v":-37.2},{"t":1.71,"v":-39.3},{"t":1.81,"v":-46},{"t":1.92,"v":-48.6},{"t":2.04,"v":-47.6},{"t":2.13,"v":-40.3},{"t":2.19,"v":-38.8},{"t":2.25,"v":-39.3},{"t":2.31,"v":-46.6},{"t":2.38,"v":-53.9},{"t":2.42,"v":-59.6},{"t":2.46,"v":-70},{"t":2.54,"v":-72.1},{"t":2.71,"v":-72.6},{"t":2.92,"v":-73.1},{"t":3.13,"v":-73.6},{"t":3.33,"v":-74},{"t":3.54,"v":-74.7},{"t":3.75,"v":-75},{"t":3.92,"v":-74.2},{"t":4.08,"v":-72.6},{"t":4.27,"v":-70.5},{"t":4.48,"v":-69},{"t":4.75,"v":-67.9},{"t":5,"v":-66.9},{"t":5.25,"v":-65.8},{"t":5.46,"v":-62.7},{"t":5.63,"v":-57.5},{"t":5.73,"v":-52.3},{"t":5.77,"v":-50.7},{"t":5.83,"v":-44.5},{"t":5.9,"v":-37.2},{"t":5.96,"v":-34.6},{"t":6.04,"v":-38.2},{"t":6.15,"v":-41.4},{"t":6.25,"v":-40.8},{"t":6.38,"v":-38.8},{"t":6.5,"v":-38.8},{"t":6.63,"v":-37.7},{"t":6.75,"v":-38.8},{"t":6.88,"v":-38.2},{"t":7.02,"v":-37.2},{"t":7.15,"v":-38.2},{"t":7.29,"v":-38.8},{"t":7.46,"v":-38.4},{"t":7.6,"v":-39.3},{"t":7.75,"v":-38.8},{"t":7.92,"v":-39.5},{"t":8.08,"v":-39.3},{"t":8.23,"v":-39.8},{"t":8.4,"v":-40.3}]},"mark":{"type":"line","color":"black","strokeWidth":1.2}},
{"data":{"values":[{"t":2.19,"v":-79.4}]},"mark":{"type":"point","shape":"M0,-1L0.62,0.15L0.18,0.15L0.18,1L-0.18,1L-0.18,0.15L-0.62,0.15Z","size":225,"filled":true,"color":"black","opacity":1}},
{"data":{"values":[{"t":2.19,"t2":3.17,"v":-76.6}]},"mark":{"type":"rule","color":"black","strokeWidth":2},"encoding":{"x2":{"field":"t2"}}}
]},
{"encoding":{"x":{"field":"t","type":"quantitative","axis":null,"scale":{"domain":[0,25],"range":[27,164.5]}},"y":{"field":"v","type":"quantitative","axis":null,"scale":{"domain":[-70,-35],"range":[645,595]}}},
"layer":[
{"data":{"values":[{"t":0,"v":-70},{"t":1.76,"v":-70},{"t":2.97,"v":-69.3},{"t":3.88,"v":-67.7},{"t":4.48,"v":-61.8},{"t":4.79,"v":-52.5},{"t":4.97,"v":-43.2},{"t":5.15,"v":-36.2},{"t":5.33,"v":-45.5},{"t":5.52,"v":-37.3},{"t":5.7,"v":-47.8},{"t":5.88,"v":-39.7},{"t":6.06,"v":-49},{"t":6.3,"v":-42},{"t":6.6,"v":-50.2},{"t":6.9,"v":-46.7},{"t":7.21,"v":-49},{"t":7.7,"v":-47.8},{"t":8.12,"v":-49},{"t":8.55,"v":-50.2},{"t":8.9,"v":-52.5},{"t":9.33,"v":-57.2},{"t":9.94,"v":-64.2},{"t":10.55,"v":-68.4},{"t":11.45,"v":-69.5},{"t":13.27,"v":-69.5},{"t":15.09,"v":-69.3},{"t":16,"v":-66.5},{"t":16.42,"v":-57.2},{"t":16.73,"v":-47.8},{"t":16.97,"v":-38.5},{"t":17.15,"v":-35},{"t":17.33,"v":-44.3},{"t":17.52,"v":-37.3},{"t":17.7,"v":-46.7},{"t":17.88,"v":-40.8},{"t":18.12,"v":-49},{"t":18.42,"v":-44.3},{"t":18.85,"v":-50.2},{"t":19.21,"v":-47.8},{"t":19.64,"v":-51.3},{"t":20.06,"v":-50.2},{"t":20.55,"v":-53.7},{"t":20.85,"v":-52.5},{"t":21.27,"v":-57.2},{"t":21.76,"v":-63},{"t":22.36,"v":-67.7},{"t":23.27,"v":-68.8},{"t":24.79,"v":-69.3}]},"mark":{"type":"line","color":"black","strokeWidth":1.2}},
{"data":{"values":[{"t":26.5,"v":-35,"v2":-70}]},"mark":{"type":"rule","color":"black","strokeWidth":2},"encoding":{"y2":{"field":"v2"}}},
{"data":{"values":[{"t":25.7,"t2":27.3,"v":-35},{"t":25.7,"t2":27.3,"v":-70}]},"mark":{"type":"rule","color":"black","strokeWidth":2},"encoding":{"x2":{"field":"t2"}}},
{"data":{"values":[{"t":27.8,"v":-35,"label":"-35"},{"t":29.6,"v":-52.5,"label":"mV"},{"t":27.8,"v":-70,"label":"-70"}]},"mark":{"type":"text","align":"left","baseline":"middle","fontSize":15},"encoding":{"text":{"field":"label"}}},
{"data":{"values":[{"t":5.7,"v":-76.3}]},"mark":{"type":"point","shape":"M0,-1L0.62,0.15L0.18,0.15L0.18,1L-0.18,1L-0.18,0.15L-0.62,0.15Z","size":225,"filled":true,"color":"black","opacity":1}},
{"data":{"values":[{"t":-3.09,"v":-15.75,"label":"D"}]},"mark":{"type":"text","align":"center","baseline":"middle","fontSize":21,"fontWeight":"bold"},"encoding":{"text":{"field":"label"}}},
{"data":{"values":[{"t":0.18,"v":-21.7,"label":"Atropine, L-NNA & MRS2500 (1 µM)"}]},"mark":{"type":"text","align":"left","baseline":"middle","fontSize":19},"encoding":{"text":{"field":"label"}}}
]},
{"encoding":{"x":{"field":"t","type":"quantitative","axis":null,"scale":{"domain":[0,25],"range":[227,364.5]}},"y":{"field":"v","type":"quantitative","axis":null,"scale":{"domain":[-70,-35],"range":[645,595]}}},
"layer":[
{"data":{"values":[{"t":0,"v":-67.7},{"t":0.55,"v":-65.3},{"t":0.97,"v":-57.2},{"t":1.33,"v":-45.5},{"t":1.58,"v":-36.2},{"t":1.76,"v":-31.5},{"t":1.94,"v":-45.5},{"t":2.12,"v":-50.2},{"t":2.36,"v":-43.2},{"t":2.67,"v":-40.8},{"t":2.97,"v":-42},{"t":3.58,"v":-40.8},{"t":4.18,"v":-42.7},{"t":4.79,"v":-43.2},{"t":5.7,"v":-44.3},{"t":6.6,"v":-46.7},{"t":7.52,"v":-49},{"t":8.12,"v":-52.5},{"t":8.73,"v":-59.5},{"t":9.33,"v":-65.3},{"t":10.24,"v":-67.7},{"t":12.06,"v":-68.4},{"t":15.09,"v":-68.1},{"t":16,"v":-66.5},{"t":16.6,"v":-57.2},{"t":16.91,"v":-45.5},{"t":17.09,"v":-36.2},{"t":17.27,"v":-33.8},{"t":17.45,"v":-40.8},{"t":17.64,"v":-35},{"t":17.82,"v":-43.2},{"t":18.06,"v":-38.5},{"t":18.3,"v":-44.3},{"t":18.73,"v":-43.2},{"t":19.33,"v":-44.3},{"t":19.94,"v":-45.5},{"t":20.55,"v":-46.7},{"t":21.45,"v":-47.8},{"t":22.06,"v":-51.3},{"t":22.67,"v":-57.2},{"t":23.27,"v":-63},{"t":24.18,"v":-67.7}]},"mark":{"type":"line","color":"black","strokeWidth":1.2}},
{"data":{"values":[{"t":26.5,"v":-35,"v2":-70}]},"mark":{"type":"rule","color":"black","strokeWidth":2},"encoding":{"y2":{"field":"v2"}}},
{"data":{"values":[{"t":25.7,"t2":27.3,"v":-35},{"t":25.7,"t2":27.3,"v":-70}]},"mark":{"type":"rule","color":"black","strokeWidth":2},"encoding":{"x2":{"field":"t2"}}},
{"data":{"values":[{"t":27.8,"v":-35,"label":"-35"},{"t":29.6,"v":-52.5,"label":"mV"},{"t":27.8,"v":-70,"label":"-70"}]},"mark":{"type":"text","align":"left","baseline":"middle","fontSize":15},"encoding":{"text":{"field":"label"}}},
{"data":{"values":[{"t":2,"v":-76.3}]},"mark":{"type":"point","shape":"M0,-1L0.62,0.15L0.18,0.15L0.18,1L-0.18,1L-0.18,0.15L-0.62,0.15Z","size":225,"filled":true,"color":"black","opacity":1}}
]},
{"encoding":{"x":{"field":"t","type":"quantitative","axis":null,"scale":{"domain":[0,25],"range":[27,164.5]}},"y":{"field":"v","type":"quantitative","axis":null,"scale":{"domain":[0,1],"range":[704,652]}}},
"layer":[
{"data":{"values":[{"t":0,"v":0},{"t":4.7,"v":0},{"t":5.6,"v":0.09},{"t":6.3,"v":0.13},{"t":6.9,"v":0.11},{"t":7.8,"v":0.07},{"t":9.1,"v":0.02},{"t":10.4,"v":0},{"t":16.9,"v":0},{"t":17.6,"v":0.09},{"t":18.3,"v":0.13},{"t":18.9,"v":0.13},{"t":19.6,"v":0.09},{"t":20.4,"v":0.04},{"t":22.2,"v":0.02},{"t":24.8,"v":0}]},"mark":{"type":"line","color":"#222","strokeWidth":1}},
{"data":{"values":[{"t":26.5,"v":-0.05,"v2":1}]},"mark":{"type":"rule","color":"black","strokeWidth":2},"encoding":{"y2":{"field":"v2"}}},
{"data":{"values":[{"t":25.7,"t2":27.3,"v":-0.05},{"t":25.7,"t2":27.3,"v":1}]},"mark":{"type":"rule","color":"black","strokeWidth":2},"encoding":{"x2":{"field":"t2"}}},
{"data":{"values":[{"t":27.45,"v":0.5,"label":"1 mN"}]},"mark":{"type":"text","align":"left","baseline":"middle","fontSize":15},"encoding":{"text":{"field":"label"}}}
]},
{"encoding":{"x":{"field":"t","type":"quantitative","axis":null,"scale":{"domain":[0,25],"range":[227,364.5]}},"y":{"field":"v","type":"quantitative","axis":null,"scale":{"domain":[0,1],"range":[704,652]}}},
"layer":[
{"data":{"values":[{"t":0,"v":0},{"t":1.6,"v":0.05},{"t":2.4,"v":0.1},{"t":3.1,"v":0.08},{"t":3.7,"v":0.11},{"t":5,"v":0.1},{"t":6.4,"v":0.08},{"t":7.6,"v":0.06},{"t":9.4,"v":0.04},{"t":12.9,"v":0.02},{"t":16.4,"v":0.02},{"t":17.5,"v":0.08},{"t":18.2,"v":0.15},{"t":19,"v":0.17},{"t":19.7,"v":0.14},{"t":20.4,"v":0.08},{"t":21.7,"v":0.02},{"t":24.7,"v":0}]},"mark":{"type":"line","color":"#222","strokeWidth":1}},
{"data":{"values":[{"t":26.5,"v":-0.05,"v2":1}]},"mark":{"type":"rule","color":"black","strokeWidth":2},"encoding":{"y2":{"field":"v2"}}},
{"data":{"values":[{"t":25.7,"t2":27.3,"v":-0.05},{"t":25.7,"t2":27.3,"v":1},{"t":14.7,"t2":24.7,"v":-0.21}]},"mark":{"type":"rule","color":"black","strokeWidth":2},"encoding":{"x2":{"field":"t2"}}},
{"data":{"values":[{"t":27.45,"v":0.5,"label":"1 mN"}]},"mark":{"type":"text","align":"left","baseline":"middle","fontSize":15},"encoding":{"text":{"field":"label"}}},
{"data":{"values":[{"t":20.2,"v":-0.44,"label":"10 s"}]},"mark":{"type":"text","align":"center","baseline":"middle","fontSize":16},"encoding":{"text":{"field":"label"}}}
]},
{"encoding":{"x":{"field":"t","type":"quantitative","axis":null,"scale":{"domain":[0,8.5],"range":[440,576]}},"y":{"field":"v","type":"quantitative","axis":null,"scale":{"domain":[-75,-35],"range":[714,586]}}},
"layer":[
{"data":{"values":[{"t":0,"v":-71.1},{"t":0.31,"v":-70.6},{"t":0.63,"v":-69.6},{"t":0.88,"v":-66.5},{"t":1.08,"v":-61.3},{"t":1.25,"v":-56},{"t":1.42,"v":-49.8},{"t":1.52,"v":-46.7},{"t":1.63,"v":-45.6},{"t":1.73,"v":-47.7},{"t":1.83,"v":-50.3},{"t":1.92,"v":-48.8},{"t":2,"v":-43.5},{"t":2.06,"v":-38.3},{"t":2.13,"v":-36.8},{"t":2.19,"v":-41.5},{"t":2.27,"v":-47.7},{"t":2.35,"v":-51.9},{"t":2.44,"v":-50.8},{"t":2.54,"v":-47.7},{"t":2.67,"v":-43.5},{"t":2.79,"v":-40.4},{"t":2.92,"v":-39.4},{"t":3.02,"v":-40.9},{"t":3.13,"v":-45.6},{"t":3.23,"v":-49.8},{"t":3.33,"v":-51.9},{"t":3.44,"v":-52.4},{"t":3.58,"v":-50.8},{"t":3.71,"v":-48.8},{"t":3.88,"v":-47.2},{"t":4,"v":-47.7},{"t":4.13,"v":-50.8},{"t":4.27,"v":-52.9},{"t":4.42,"v":-51.9},{"t":4.58,"v":-50.3},{"t":4.79,"v":-49.3},{"t":4.96,"v":-49.8},{"t":5.1,"v":-51.4},{"t":5.25,"v":-54},{"t":5.42,"v":-57.1},{"t":5.63,"v":-58.6},{"t":5.83,"v":-59.2},{"t":6.04,"v":-60.2},{"t":6.25,"v":-61.3},{"t":6.46,"v":-62.8},{"t":6.67,"v":-64.4},{"t":6.98,"v":-66.5},{"t":7.29,"v":-68},{"t":7.6,"v":-69.4},{"t":7.92,"v":-70.4},{"t":8.23,"v":-71.1},{"t":8.5,"v":-71.5}]},"mark":{"type":"line","color":"black","strokeWidth":1.2}},
{"data":{"values":[{"t":2.29,"v":-75.6}]},"mark":{"type":"point","shape":"M0,-1L0.62,0.15L0.18,0.15L0.18,1L-0.18,1L-0.18,0.15L-0.62,0.15Z","size":225,"filled":true,"color":"black","opacity":1}}
]},
{"encoding":{"x":{"field":"t","type":"quantitative","axis":null,"scale":{"domain":[0,8.5],"range":[600,736]}},"y":{"field":"v","type":"quantitative","axis":null,"scale":{"domain":[-75,-35],"range":[714,586]}}},
"layer":[
{"data":{"values":[{"t":0,"v":-71.1},{"t":0.42,"v":-70.6},{"t":0.83,"v":-69.6},{"t":1.15,"v":-67.5},{"t":1.42,"v":-64.4},{"t":1.63,"v":-59.2},{"t":1.77,"v":-52.9},{"t":1.88,"v":-49.8},{"t":1.98,"v":-48.2},{"t":2.08,"v":-47.7},{"t":2.19,"v":-46.7},{"t":2.29,"v":-43.5},{"t":2.35,"v":-41.5},{"t":2.42,"v":-36.3},{"t":2.48,"v":-35.2},{"t":2.54,"v":-41.5},{"t":2.58,"v":-46.7},{"t":2.63,"v":-50.8},{"t":2.67,"v":-54},{"t":2.75,"v":-54.8},{"t":2.88,"v":-54.5},{"t":3.02,"v":-54},{"t":3.17,"v":-52.9},{"t":3.33,"v":-50.8},{"t":3.54,"v":-48.2},{"t":3.71,"v":-45.6},{"t":3.85,"v":-43.5},{"t":3.96,"v":-42},{"t":4.06,"v":-42.5},{"t":4.17,"v":-44.1},{"t":4.33,"v":-45.1},{"t":4.48,"v":-44.6},{"t":4.63,"v":-44.1},{"t":4.79,"v":-44.6},{"t":4.96,"v":-45.1},{"t":5.1,"v":-44.4},{"t":5.25,"v":-44.6},{"t":5.42,"v":-45.6},{"t":5.63,"v":-46.5},{"t":5.79,"v":-46.1},{"t":5.94,"v":-46.1},{"t":6.15,"v":-45.6},{"t":6.35,"v":-45.1},{"t":6.5,"v":-46.1},{"t":6.67,"v":-46.9},{"t":6.88,"v":-47.5},{"t":7.08,"v":-47.7},{"t":7.29,"v":-47.7},{"t":7.5,"v":-47.4},{"t":7.71,"v":-48.2},{"t":7.92,"v":-49.3},{"t":8.13,"v":-50.3},{"t":8.33,"v":-51.9}]},"mark":{"type":"line","color":"black","strokeWidth":1.2}},
{"data":{"values":[{"t":2.3,"v":-75.6}]},"mark":{"type":"point","shape":"M0,-1L0.62,0.15L0.18,0.15L0.18,1L-0.18,1L-0.18,0.15L-0.62,0.15Z","size":225,"filled":true,"color":"black","opacity":1}},
{"data":{"values":[{"t":2.3,"t2":3.3,"v":-71.5},{"t":5.53,"t2":5.97,"v":-59.5},{"t":5.53,"t2":5.97,"v":-69.5},{"t":4,"t2":5,"v":-75.3}]},"mark":{"type":"rule","color":"black","strokeWidth":2},"encoding":{"x2":{"field":"t2"}}},
{"data":{"values":[{"t":5.75,"v":-59.5,"v2":-69.5}]},"mark":{"type":"rule","color":"black","strokeWidth":2},"encoding":{"y2":{"field":"v2"}}},
{"data":{"values":[{"t":6.5,"v":-64.5,"label":"10 mV"}]},"mark":{"type":"text","align":"left","baseline":"middle","fontSize":16},"encoding":{"text":{"field":"label"}}},
{"data":{"values":[{"t":4.81,"v":-79.1,"label":"1 s"}]},"mark":{"type":"text","align":"center","baseline":"middle","fontSize":16},"encoding":{"text":{"field":"label"}}}
]},
{"data":{"name":"ijp"},"transform":[{"filter":"datum.group === 'none'"}],"mark":{"type":"bar","fill":"white","stroke":"black","strokeWidth":1.5},
"encoding":{
"x":{"field":"freq","type":"nominal","scale":{"type":"band","domain":["1 Hz","5 Hz","10 Hz"],"range":[197,449],"paddingInner":0.19,"paddingOuter":0.095},"axis":{"title":null,"orient":"bottom","offset":-24,"domainColor":"black","domainWidth":1.5,"ticks":false,"grid":false,"labelFontSize":18,"labelColor":"black","labelPadding":5,"labelAngle":0}},
"xOffset":{"field":"group","type":"nominal","scale":{"domain":["none","atr","atrl","atrlm"],"paddingInner":0,"paddingOuter":0}},
"y":{"field":"mean","type":"quantitative","scale":{"domain":[0,40],"range":[925,758]},"axis":{"title":"mV","orient":"left","offset":-197,"values":[0,10,20,30,40],"grid":false,"domainColor":"black","domainWidth":1.5,"tickColor":"black","tickWidth":1.5,"tickSize":5,"labelFontSize":14,"labelColor":"black","labelPadding":2,"titleAngle":0,"titleFontSize":18,"titleFontWeight":"normal","titleColor":"black","titleX":-29,"titleY":840,"titleAlign":"right","titleBaseline":"middle"}}}},
{"data":{"name":"ijp"},"transform":[{"filter":"datum.group === 'atr'"}],"mark":{"type":"bar","fill":"black","stroke":"black","strokeWidth":1.5},
"encoding":{"x":{"field":"freq","type":"nominal","scale":{"type":"band","domain":["1 Hz","5 Hz","10 Hz"],"range":[197,449],"paddingInner":0.19,"paddingOuter":0.095},"axis":null},"xOffset":{"field":"group","type":"nominal","scale":{"domain":["none","atr","atrl","atrlm"],"paddingInner":0,"paddingOuter":0}},"y":{"field":"mean","type":"quantitative","scale":{"domain":[0,40],"range":[925,758]},"axis":null}}},
{"data":{"name":"ijp"},"transform":[{"filter":"datum.group === 'atrl'"}],"mark":{"type":"bar","stroke":"black","strokeWidth":1.5,"fill":{"gradient":"linear","x1":0,"y1":0,"x2":0,"y2":1,"stops":[{"offset":0,"color":"#fff"},{"offset":0.025,"color":"#fff"},{"offset":0.025,"color":"#555"},{"offset":0.04,"color":"#555"},{"offset":0.04,"color":"#fff"},{"offset":0.065,"color":"#fff"},{"offset":0.065,"color":"#555"},{"offset":0.08,"color":"#555"},{"offset":0.08,"color":"#fff"},{"offset":0.105,"color":"#fff"},{"offset":0.105,"color":"#555"},{"offset":0.12,"color":"#555"},{"offset":0.12,"color":"#fff"},{"offset":0.145,"color":"#fff"},{"offset":0.145,"color":"#555"},{"offset":0.16,"color":"#555"},{"offset":0.16,"color":"#fff"},{"offset":0.185,"color":"#fff"},{"offset":0.185,"color":"#555"},{"offset":0.2,"color":"#555"},{"offset":0.2,"color":"#fff"},{"offset":0.225,"color":"#fff"},{"offset":0.225,"color":"#555"},{"offset":0.24,"color":"#555"},{"offset":0.24,"color":"#fff"},{"offset":0.265,"color":"#fff"},{"offset":0.265,"color":"#555"},{"offset":0.28,"color":"#555"},{"offset":0.28,"color":"#fff"},{"offset":0.305,"color":"#fff"},{"offset":0.305,"color":"#555"},{"offset":0.32,"color":"#555"},{"offset":0.32,"color":"#fff"},{"offset":0.345,"color":"#fff"},{"offset":0.345,"color":"#555"},{"offset":0.36,"color":"#555"},{"offset":0.36,"color":"#fff"},{"offset":0.385,"color":"#fff"},{"offset":0.385,"color":"#555"},{"offset":0.4,"color":"#555"},{"offset":0.4,"color":"#fff"},{"offset":0.425,"color":"#fff"},{"offset":0.425,"color":"#555"},{"offset":0.44,"color":"#555"},{"offset":0.44,"color":"#fff"},{"offset":0.465,"color":"#fff"},{"offset":0.465,"color":"#555"},{"offset":0.48,"color":"#555"},{"offset":0.48,"color":"#fff"},{"offset":0.505,"color":"#fff"},{"offset":0.505,"color":"#555"},{"offset":0.52,"color":"#555"},{"offset":0.52,"color":"#fff"},{"offset":0.545,"color":"#fff"},{"offset":0.545,"color":"#555"},{"offset":0.56,"color":"#555"},{"offset":0.56,"color":"#fff"},{"offset":0.585,"color":"#fff"},{"offset":0.585,"color":"#555"},{"offset":0.6,"color":"#555"},{"offset":0.6,"color":"#fff"},{"offset":0.625,"color":"#fff"},{"offset":0.625,"color":"#555"},{"offset":0.64,"color":"#555"},{"offset":0.64,"color":"#fff"},{"offset":0.665,"color":"#fff"},{"offset":0.665,"color":"#555"},{"offset":0.68,"color":"#555"},{"offset":0.68,"color":"#fff"},{"offset":0.705,"color":"#fff"},{"offset":0.705,"color":"#555"},{"offset":0.72,"color":"#555"},{"offset":0.72,"color":"#fff"},{"offset":0.745,"color":"#fff"},{"offset":0.745,"color":"#555"},{"offset":0.76,"color":"#555"},{"offset":0.76,"color":"#fff"},{"offset":0.785,"color":"#fff"},{"offset":0.785,"color":"#555"},{"offset":0.8,"color":"#555"},{"offset":0.8,"color":"#fff"},{"offset":0.825,"color":"#fff"},{"offset":0.825,"color":"#555"},{"offset":0.84,"color":"#555"},{"offset":0.84,"color":"#fff"},{"offset":0.865,"color":"#fff"},{"offset":0.865,"color":"#555"},{"offset":0.88,"color":"#555"},{"offset":0.88,"color":"#fff"},{"offset":0.905,"color":"#fff"},{"offset":0.905,"color":"#555"},{"offset":0.92,"color":"#555"},{"offset":0.92,"color":"#fff"},{"offset":0.945,"color":"#fff"},{"offset":0.945,"color":"#555"},{"offset":0.96,"color":"#555"},{"offset":0.96,"color":"#fff"},{"offset":0.985,"color":"#fff"},{"offset":0.985,"color":"#555"},{"offset":1,"color":"#555"}]}},
"encoding":{"x":{"field":"freq","type":"nominal","scale":{"type":"band","domain":["1 Hz","5 Hz","10 Hz"],"range":[197,449],"paddingInner":0.19,"paddingOuter":0.095},"axis":null},"xOffset":{"field":"group","type":"nominal","scale":{"domain":["none","atr","atrl","atrlm"],"paddingInner":0,"paddingOuter":0}},"y":{"field":"mean","type":"quantitative","scale":{"domain":[0,40],"range":[925,758]},"axis":null}}},
{"data":{"name":"ijp"},"transform":[{"filter":"datum.group === 'atrlm'"}],"mark":{"type":"bar","stroke":"black","strokeWidth":1.5,"fill":{"gradient":"linear","x1":0,"y1":0,"x2":1,"y2":0,"stops":[{"offset":0,"color":"#fff"},{"offset":0.19,"color":"#fff"},{"offset":0.19,"color":"#333"},{"offset":0.25,"color":"#333"},{"offset":0.25,"color":"#fff"},{"offset":0.44,"color":"#fff"},{"offset":0.44,"color":"#333"},{"offset":0.5,"color":"#333"},{"offset":0.5,"color":"#fff"},{"offset":0.69,"color":"#fff"},{"offset":0.69,"color":"#333"},{"offset":0.75,"color":"#333"},{"offset":0.75,"color":"#fff"},{"offset":0.94,"color":"#fff"},{"offset":0.94,"color":"#333"},{"offset":1,"color":"#333"}]}},
"encoding":{"x":{"field":"freq","type":"nominal","scale":{"type":"band","domain":["1 Hz","5 Hz","10 Hz"],"range":[197,449],"paddingInner":0.19,"paddingOuter":0.095},"axis":null},"xOffset":{"field":"group","type":"nominal","scale":{"domain":["none","atr","atrl","atrlm"],"paddingInner":0,"paddingOuter":0}},"y":{"field":"mean","type":"quantitative","scale":{"domain":[0,40],"range":[925,758]},"axis":null}}},
{"data":{"name":"ijp"},"transform":[{"filter":"datum.group === 'none'"}],"mark":{"type":"rule","color":"black","strokeWidth":1.5,"xOffset":-25.5},"encoding":{"x":{"field":"freq","type":"nominal","scale":{"type":"band","domain":["1 Hz","5 Hz","10 Hz"],"range":[197,449],"paddingInner":0.19,"paddingOuter":0.095},"axis":null},"y":{"field":"mean","type":"quantitative","scale":{"domain":[0,40],"range":[925,758]},"axis":null},"y2":{"field":"upper"}}},
{"data":{"name":"ijp"},"transform":[{"filter":"datum.group === 'atr'"}],"mark":{"type":"rule","color":"black","strokeWidth":1.5,"xOffset":-8.5},"encoding":{"x":{"field":"freq","type":"nominal","scale":{"type":"band","domain":["1 Hz","5 Hz","10 Hz"],"range":[197,449],"paddingInner":0.19,"paddingOuter":0.095},"axis":null},"y":{"field":"mean","type":"quantitative","scale":{"domain":[0,40],"range":[925,758]},"axis":null},"y2":{"field":"upper"}}},
{"data":{"name":"ijp"},"transform":[{"filter":"datum.group === 'atrl'"}],"mark":{"type":"rule","color":"black","strokeWidth":1.5,"xOffset":8.5},"encoding":{"x":{"field":"freq","type":"nominal","scale":{"type":"band","domain":["1 Hz","5 Hz","10 Hz"],"range":[197,449],"paddingInner":0.19,"paddingOuter":0.095},"axis":null},"y":{"field":"mean","type":"quantitative","scale":{"domain":[0,40],"range":[925,758]},"axis":null},"y2":{"field":"upper"}}},
{"data":{"name":"ijp"},"transform":[{"filter":"datum.group === 'atrlm' && datum.upper > datum.mean"}],"mark":{"type":"rule","color":"black","strokeWidth":1.5,"xOffset":25.5},"encoding":{"x":{"field":"freq","type":"nominal","scale":{"type":"band","domain":["1 Hz","5 Hz","10 Hz"],"range":[197,449],"paddingInner":0.19,"paddingOuter":0.095},"axis":null},"y":{"field":"mean","type":"quantitative","scale":{"domain":[0,40],"range":[925,758]},"axis":null},"y2":{"field":"upper"}}},
{"data":{"name":"ijp"},"transform":[{"filter":"datum.group === 'none'"}],"mark":{"type":"point","shape":"M-1,0H1","size":81,"filled":false,"stroke":"black","strokeWidth":1.5,"opacity":1,"xOffset":-25.5},"encoding":{"x":{"field":"freq","type":"nominal","scale":{"type":"band","domain":["1 Hz","5 Hz","10 Hz"],"range":[197,449],"paddingInner":0.19,"paddingOuter":0.095},"axis":null},"y":{"field":"upper","type":"quantitative","scale":{"domain":[0,40],"range":[925,758]},"axis":null}}},
{"data":{"name":"ijp"},"transform":[{"filter":"datum.group === 'atr'"}],"mark":{"type":"point","shape":"M-1,0H1","size":81,"filled":false,"stroke":"black","strokeWidth":1.5,"opacity":1,"xOffset":-8.5},"encoding":{"x":{"field":"freq","type":"nominal","scale":{"type":"band","domain":["1 Hz","5 Hz","10 Hz"],"range":[197,449],"paddingInner":0.19,"paddingOuter":0.095},"axis":null},"y":{"field":"upper","type":"quantitative","scale":{"domain":[0,40],"range":[925,758]},"axis":null}}},
{"data":{"name":"ijp"},"transform":[{"filter":"datum.group === 'atrl'"}],"mark":{"type":"point","shape":"M-1,0H1","size":81,"filled":false,"stroke":"black","strokeWidth":1.5,"opacity":1,"xOffset":8.5},"encoding":{"x":{"field":"freq","type":"nominal","scale":{"type":"band","domain":["1 Hz","5 Hz","10 Hz"],"range":[197,449],"paddingInner":0.19,"paddingOuter":0.095},"axis":null},"y":{"field":"upper","type":"quantitative","scale":{"domain":[0,40],"range":[925,758]},"axis":null}}},
{"data":{"name":"ijp"},"transform":[{"filter":"datum.group === 'atrlm' && datum.upper > datum.mean"}],"mark":{"type":"point","shape":"M-1,0H1","size":81,"filled":false,"stroke":"black","strokeWidth":1.5,"opacity":1,"xOffset":25.5},"encoding":{"x":{"field":"freq","type":"nominal","scale":{"type":"band","domain":["1 Hz","5 Hz","10 Hz"],"range":[197,449],"paddingInner":0.19,"paddingOuter":0.095},"axis":null},"y":{"field":"upper","type":"quantitative","scale":{"domain":[0,40],"range":[925,758]},"axis":null}}},
{"data":{"name":"ijp"},"transform":[{"filter":"datum.group === 'atrlm'"}],"mark":{"type":"text","text":"***","fontSize":13,"baseline":"middle","align":"center","dy":-7,"dx":25.5},
"encoding":{"x":{"field":"freq","type":"nominal","scale":{"type":"band","domain":["1 Hz","5 Hz","10 Hz"],"range":[197,449],"paddingInner":0.19,"paddingOuter":0.095},"axis":null},"y":{"field":"upper","type":"quantitative","scale":{"domain":[0,40],"range":[925,758]},"axis":null}}},
{"data":{"values":[{"freq":"1 Hz","mean":38.9,"label":"E"}]},"mark":{"type":"text","fontSize":22,"fontWeight":"bold","align":"center","baseline":"middle","dx":-96.5},
"encoding":{"x":{"field":"freq","type":"nominal","scale":{"type":"band","domain":["1 Hz","5 Hz","10 Hz"],"range":[197,449],"paddingInner":0.19,"paddingOuter":0.095},"axis":null},"y":{"field":"mean","type":"quantitative","scale":{"domain":[0,40],"range":[925,758]},"axis":null},"text":{"field":"label"}}},
{"data":{"values":[{"freq":"5 Hz","mean":41.7,"label":"IJP Amplitude"}]},"mark":{"type":"text","fontSize":18,"align":"center","baseline":"middle","dx":-9},
"encoding":{"x":{"field":"freq","type":"nominal","scale":{"type":"band","domain":["1 Hz","5 Hz","10 Hz"],"range":[197,449],"paddingInner":0.19,"paddingOuter":0.095},"axis":null},"y":{"field":"mean","type":"quantitative","scale":{"domain":[0,40],"range":[925,758]},"axis":null},"text":{"field":"label"}}},
{"data":{"values":[
{"group":"none","l1":"No drugs","l2":""},
{"group":"atr","l1":"Atropine (1 µM)","l2":""},
{"group":"atrl","l1":"Atropine &","l2":"L-NNA (100 µM)"},
{"group":"atrlm","l1":"Atropine, L-NNA","l2":"& MRS2500 (1 µM)"}]},
"encoding":{"y":{"field":"group","type":"nominal","scale":{"type":"point","domain":["none","atr","atrl","atrlm"],"range":[769,872],"padding":0},"axis":null}},
"layer":[
{"transform":[{"filter":"datum.group === 'none'"}],"mark":{"type":"point","shape":"M-1,-0.6H1V0.6H-1Z","size":400,"filled":true,"fill":"white","stroke":"black","strokeWidth":1.2,"opacity":1},"encoding":{"x":{"datum":"swatch","type":"nominal","scale":{"type":"point","domain":["swatch","label"],"range":[462.5,483],"padding":0},"axis":null}}},
{"transform":[{"filter":"datum.group === 'atr'"}],"mark":{"type":"point","shape":"M-1,-0.6H1V0.6H-1Z","size":400,"filled":true,"fill":"black","stroke":"black","strokeWidth":1.2,"opacity":1},"encoding":{"x":{"datum":"swatch","type":"nominal","scale":{"type":"point","domain":["swatch","label"],"range":[462.5,483],"padding":0},"axis":null}}},
{"transform":[{"filter":"datum.group === 'atrl'"}],"mark":{"type":"point","shape":"M-1,-0.6H1V0.6H-1Z","size":400,"filled":true,"stroke":"black","strokeWidth":1.2,"opacity":1,"fill":{"gradient":"linear","x1":0,"y1":0,"x2":0,"y2":1,"stops":[{"offset":0,"color":"#fff"},{"offset":0.17,"color":"#fff"},{"offset":0.17,"color":"#444"},{"offset":0.25,"color":"#444"},{"offset":0.25,"color":"#fff"},{"offset":0.42,"color":"#fff"},{"offset":0.42,"color":"#444"},{"offset":0.5,"color":"#444"},{"offset":0.5,"color":"#fff"},{"offset":0.67,"color":"#fff"},{"offset":0.67,"color":"#444"},{"offset":0.75,"color":"#444"},{"offset":0.75,"color":"#fff"},{"offset":1,"color":"#fff"}]}},"encoding":{"x":{"datum":"swatch","type":"nominal","scale":{"type":"point","domain":["swatch","label"],"range":[462.5,483],"padding":0},"axis":null}}},
{"transform":[{"filter":"datum.group === 'atrlm'"}],"mark":{"type":"point","shape":"M-1,-0.6H1V0.6H-1Z","size":400,"filled":true,"stroke":"black","strokeWidth":1.2,"opacity":1,"fill":{"gradient":"linear","x1":0,"y1":0,"x2":1,"y2":0,"stops":[{"offset":0,"color":"#fff"},{"offset":0.15,"color":"#fff"},{"offset":0.15,"color":"#333"},{"offset":0.2,"color":"#333"},{"offset":0.2,"color":"#fff"},{"offset":0.35,"color":"#fff"},{"offset":0.35,"color":"#333"},{"offset":0.4,"color":"#333"},{"offset":0.4,"color":"#fff"},{"offset":0.55,"color":"#fff"},{"offset":0.55,"color":"#333"},{"offset":0.6,"color":"#333"},{"offset":0.6,"color":"#fff"},{"offset":0.75,"color":"#fff"},{"offset":0.75,"color":"#333"},{"offset":0.8,"color":"#333"},{"offset":0.8,"color":"#fff"},{"offset":1,"color":"#fff"}]}},"encoding":{"x":{"datum":"swatch","type":"nominal","scale":{"type":"point","domain":["swatch","label"],"range":[462.5,483],"padding":0},"axis":null}}},
{"mark":{"type":"text","align":"left","baseline":"middle","fontSize":14},"encoding":{"x":{"datum":"label","type":"nominal","scale":{"type":"point","domain":["swatch","label"],"range":[462.5,483],"padding":0},"axis":null},"text":{"field":"l1"}}},
{"mark":{"type":"text","align":"left","baseline":"middle","fontSize":14,"dy":15},"encoding":{"x":{"datum":"label","type":"nominal","scale":{"type":"point","domain":["swatch","label"],"range":[462.5,483],"padding":0},"axis":null},"text":{"field":"l2"}}}
]}
]
}
